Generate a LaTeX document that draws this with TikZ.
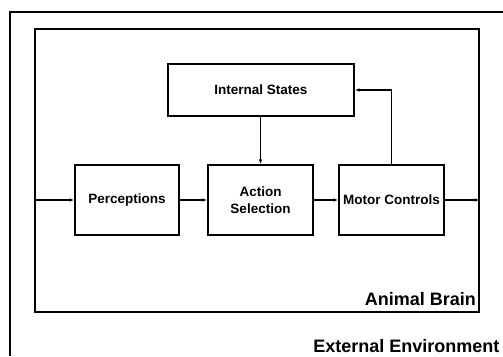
\documentclass[tikz,border=0pt]{standalone}
\usepackage{fontspec}
\setmainfont{Liberation Sans}
\usepackage{tikz}
\usetikzlibrary{calc,arrows.meta,positioning}

\begin{document}
\begin{tikzpicture}[x=1pt,y=1pt,line width=1.4pt,
    blok/.style={draw,rectangle,minimum height=70pt,minimum width=105pt,align=center,
      font=\fontsize{13.5}{16.5}\selectfont\bfseries},
    pijl/.style={-{Latex[length=5pt,width=3.5pt]}},
    bigtext/.style={font=\fontsize{18}{20}\selectfont\bfseries,inner sep=0pt}]
              \useasboundingbox (0,0) rectangle (503,356);
              % outer (environment) box, cut off by the page
              \draw (503,344) -| (10,0);
              \node[draw,minimum width=444pt,minimum height=283pt,inner sep=0pt](brain)at(257,185.5){};
              \node[blok,minimum width=186pt,minimum height=52pt](internal)at(261,266){Internal States};
              \node[blok,minimum width=104pt](perc)at(127,156){Perceptions};
              \node[blok](action)at(260.5,156){Action\\Selection};
              \node[blok](motor)at(391.5,156){Motor Controls};
              \coordinate (in) at (brain.west |- perc.west);
              \coordinate (out) at (brain.east |- motor.east);
              \draw[pijl](in)--(perc);
              \draw[pijl](perc)--(action);
              \draw[pijl](action)--(motor);
              \draw[pijl](motor)--(out);
              \draw[pijl](internal.south -| action.north)--(action.north);
              \draw[pijl](motor.north)|-(internal.east);
              \node[bigtext,anchor=base east](brainlbl)at([xshift=-3pt,yshift=7pt]brain.south east){Animal Brain};
              \node[bigtext,anchor=base east](envlbl)at(500,4){External Environment};
            \end{tikzpicture}
\end{document}
